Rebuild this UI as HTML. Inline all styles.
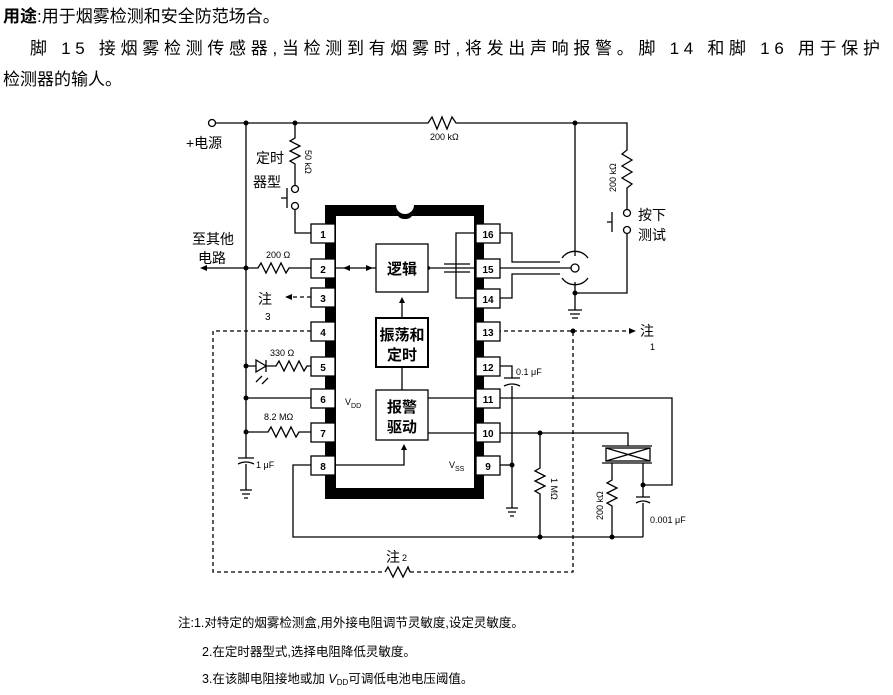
<!DOCTYPE html>
<html><head><meta charset="utf-8"><style>
body{margin:0;background:#fff;width:893px;height:695px;overflow:hidden}
svg{display:block}
text{font-family:"Liberation Sans","Noto Sans CJK SC",sans-serif;fill:#000}
</style></head><body>
<svg width="893" height="695" viewBox="0 0 893 695" xmlns="http://www.w3.org/2000/svg">
<g font-size="17">
<text x="3" y="22"><tspan font-weight="bold">用途</tspan>:用于烟雾检测和安全防范场合。</text>
<text x="30" y="54" textLength="850">脚 15 接烟雾检测传感器,当检测到有烟雾时,将发出声响报警。脚 14 和脚 16 用于保护</text>
<text x="3" y="85">检测器的输人。</text>
</g>
<g stroke="#000" stroke-width="1.3" fill="none">
<path d="M216 123 H428 l4 -6 5 12 5 -12 5 12 5 -12 4 6 H627 V150 l-5 4 10 6 -10 6 10 6 -10 6 10 6 -5 4 V209"/>
<circle cx="212" cy="123" r="3.5" fill="#fff"/>
<circle cx="627" cy="213" r="3.5" fill="#fff"/>
<circle cx="627" cy="230" r="3.5" fill="#fff"/>
<path d="M627 234 V293 H575"/>
<path d="M612 212 V232 M607 222 H612"/>
<path d="M295 123 V138 l-5 3 10 5 -10 5 10 5 -10 5 5 3 V185"/>
<circle cx="295" cy="189" r="3.5" fill="#fff"/>
<circle cx="295" cy="206" r="3.5" fill="#fff"/>
<path d="M287 188 V208 M281 198 H287"/>
<path d="M295 210 V233 H311"/>
<path d="M246 123 V458 M238 458 H254 M238 464 Q246 460 254 464 M246 464 V490 M240 490 H252 M242 494 H250 M244 498 H248"/>
<path d="M205 268 H258 l3 -5 5 10 5 -10 5 10 5 -10 5 10 3 -5 H311"/>
<path d="M246 366 H256 M256 360 V372 L266 366 Z M266 360 V372 M266 366 H276 l3 -5 5 10 5 -10 5 10 5 -10 5 10 3 -5 H311"/>
<path d="M262 376 l-6 6 M268 378 l-6 6"/>
<path d="M246 398 H311"/>
<path d="M246 432 H268 l3 -5 5 10 5 -10 5 10 5 -10 5 10 3 -5 H311"/>
<path d="M311 465 H293 V537 H643"/>
<path d="M575 123 V256"/>
<circle cx="575" cy="268" r="4"/>
<path d="M562 258 A16 16 0 0 1 588 258 M562 278 A16 16 0 0 0 588 278"/>
<path d="M500 268 H571"/>
<path d="M500 233 H512 V262 H560 M500 298 H512 V274 H560"/>
<path d="M575 282 V310 M568 310 H582 M570 314 H580 M572 318 H578"/>
<path d="M476 233 H456 V298 H476 M438 268 H476 M444 264 H470 M444 272 H470 M428 268 H438"/>
<path d="M500 366 H512 V378 M504 378 H520 M504 386 Q512 382 520 386 M512 386 V508 M506 508 H518 M508 512 H516 M510 516 H514"/>
<path d="M500 465 H512"/>
<path d="M428 398 H476 M500 398 H672 V485 H643"/>
<path d="M428 433 H476 M500 433 H628 V446"/>
<path d="M540 433 V468 l-5 3 10 5 -10 5 10 5 -10 5 5 3 V537"/>
<rect x="606" y="448" width="44" height="13"/>
<path d="M602 446 H652 M602 463 H652 M606 448 L650 461 M606 461 L650 448"/>
<path d="M612 463 V480 l-5 3 10 5 -10 5 10 5 -10 5 5 3 V537"/>
<path d="M643 463 V497 M636 497 H650 M636 503 Q643 499 650 503 M643 503 V537"/>
<path d="M336 465 H404 V447"/>
<path d="M402 318 V300 M402 390 V367"/>
<path d="M336 268 H376"/>
<g stroke-dasharray="4 3">
<path d="M311 331 H213 V572 H385 M410 572 H573 V331 H500 M573 331 H630 M311 297 H290"/>
</g>
<path d="M385 572 l3 -5 5 10 5 -10 5 10 5 -10 2 5"/>
</g>
<g fill="#000">
<circle cx="246" cy="123" r="2.5"/><circle cx="295" cy="123" r="2.5"/><circle cx="575" cy="123" r="2.5"/>
<circle cx="246" cy="268" r="2.5"/><circle cx="246" cy="366" r="2.5"/><circle cx="246" cy="398" r="2.5"/><circle cx="246" cy="432" r="2.5"/>
<circle cx="575" cy="293" r="2.5"/><circle cx="573" cy="331" r="2.5"/><circle cx="512" cy="465" r="2.5"/>
<circle cx="540" cy="433" r="2.5"/><circle cx="643" cy="485" r="2.5"/><circle cx="540" cy="537" r="2.5"/><circle cx="612" cy="537" r="2.5"/>
<circle cx="428" cy="268" r="2"/>
<path d="M200 268 l7 -3 v6z M285 297 l7 -3 v6z M636 331 l-7 -3 v6z M343 268 l7 -3 v6z M373 268 l-7 -3 v6z M402 297 l-3 6 h6z M404 444 l-3 6 h6z"/>
</g>
<path d="M325 205 H396 A9 9 0 0 0 414 205 H484 V499 H325 Z M336 216 V488 H474 V216 H412 A8 6 0 0 1 398 216 Z" fill="#000" fill-rule="evenodd"/>
<g fill="#fff" stroke="#000" stroke-width="1.3">
<rect x="311" y="224" width="24" height="19"/><rect x="311" y="259" width="24" height="19"/><rect x="311" y="288" width="24" height="19"/><rect x="311" y="322" width="24" height="19"/>
<rect x="311" y="357" width="24" height="19"/><rect x="311" y="389" width="24" height="19"/><rect x="311" y="423" width="24" height="19"/><rect x="311" y="456" width="24" height="19"/>
<rect x="476" y="224" width="24" height="19"/><rect x="476" y="259" width="24" height="19"/><rect x="476" y="289" width="24" height="19"/><rect x="476" y="322" width="24" height="19"/>
<rect x="476" y="357" width="24" height="19"/><rect x="476" y="389" width="24" height="19"/><rect x="476" y="423" width="24" height="19"/><rect x="476" y="456" width="24" height="19"/>
<rect x="376" y="244" width="52" height="48"/><rect x="376" y="318" width="52" height="49" stroke-width="2"/><rect x="376" y="390" width="52" height="50"/>
</g>
<g font-size="10" font-weight="bold" text-anchor="middle">
<text x="323" y="238">1</text><text x="323" y="273">2</text><text x="323" y="302">3</text><text x="323" y="336">4</text>
<text x="323" y="371">5</text><text x="323" y="403">6</text><text x="323" y="437">7</text><text x="323" y="470">8</text>
<text x="488" y="238">16</text><text x="488" y="273">15</text><text x="488" y="303">14</text><text x="488" y="336">13</text>
<text x="488" y="371">12</text><text x="488" y="403">11</text><text x="488" y="437">10</text><text x="488" y="470">9</text>
</g>
<g font-size="15" font-weight="bold" text-anchor="middle">
<text x="402" y="274">逻辑</text>
<text x="402" y="340">振荡和</text><text x="402" y="360">定时</text>
<text x="402" y="412">报警</text><text x="402" y="432">驱动</text>
</g>
<g font-size="14">
<text x="186" y="148">+电源</text>
<text x="256" y="163">定时</text><text x="253" y="187">器型</text>
<text x="192" y="244">至其他</text><text x="198" y="263">电路</text>
<text x="258" y="304">注</text><text x="265" y="320" font-size="10">3</text>
<text x="638" y="220">按下</text><text x="638" y="240">测试</text>
<text x="640" y="336">注</text><text x="650" y="350" font-size="9">1</text>
<text x="386" y="562">注</text><text x="402" y="561" font-size="9">2</text>
</g>
<g font-size="9">
<text x="430" y="140">200 kΩ</text>
<text x="266" y="258">200 Ω</text>
<text x="270" y="356">330 Ω</text>
<text x="264" y="420">8.2 MΩ</text>
<text x="256" y="468">1 μF</text>
<text x="345" y="405">V<tspan font-size="7" dy="3">DD</tspan></text>
<text x="449" y="468">V<tspan font-size="7" dy="3">SS</tspan></text>
<text x="516" y="375">0.1 μF</text>
<text x="650" y="523">0.001 μF</text>
<text transform="translate(305,150) rotate(90)">50 kΩ</text>
<text transform="translate(616,192) rotate(-90)">200 kΩ</text>
<text transform="translate(551,478) rotate(90)">1 MΩ</text>
<text transform="translate(603,520) rotate(-90)">200 kΩ</text>
</g>
<g font-size="12.5">
<text x="178" y="627">注:1.对特定的烟雾检测盒,用外接电阻调节灵敏度,设定灵敏度。</text>
<text x="202" y="656">2.在定时器型式,选择电阻降低灵敏度。</text>
<text x="202" y="683">3.在该脚电阻接地或加 <tspan font-style="italic">V</tspan><tspan font-size="8" dy="2">DD</tspan><tspan dy="-2">可调低电池电压阈值。</tspan></text>
</g>
</svg>
</body></html>
